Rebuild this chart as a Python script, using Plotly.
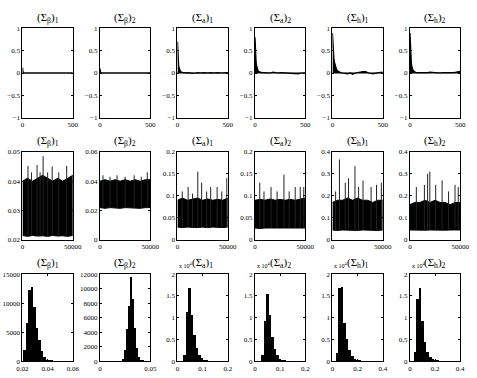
import plotly.graph_objects as go

# ---------------- data ----------------
titles = ["(Σ<sub>β</sub>)<sub>1</sub>", "(Σ<sub>β</sub>)<sub>2</sub>",
          "(Σ<sub>a</sub>)<sub>1</sub>", "(Σ<sub>a</sub>)<sub>2</sub>",
          "(Σ<sub>h</sub>)<sub>1</sub>", "(Σ<sub>h</sub>)<sub>2</sub>"]

# Row 1: autocorrelation by lag
acf_lags = [1, 2, 3, 4, 5, 6, 8, 10, 12, 15, 20, 25, 30, 40, 50, 60, 70, 80, 100, 120,
            150, 180, 200, 230, 260, 300, 330, 360, 400, 430, 460, 500]
acf_b1 = [0.12, 0.03, 0.01, 0.01, 0, 0, 0, 0, 0, 0, 0, 0, 0, 0, 0, 0, 0, 0, 0.01, 0,
          0, 0.01, 0, 0, 0, 0, 0.01, 0.01, 0.01, 0, 0, 0]
acf_b2 = [0.1, 0.02, 0.01, 0, 0, 0, 0, 0, 0, 0, 0, 0, 0, 0, 0, 0, 0, 0, 0, 0.01,
          0, 0, 0, 0.01, 0, 0, 0, 0, 0.01, 0, 0, 0]
acf_a1 = [0.7, 0.6, 0.52, 0.45, 0.4, 0.35, 0.28, 0.22, 0.18, 0.13, 0.09, 0.06, 0.04, 0.02, 0.01, 0.01,
          0.01, 0, 0.01, 0, -0.01, 0, 0.01, 0, 0.01, 0, 0.01, 0, 0.01, 0, 0.01, 0.01]
acf_a2 = [0.8, 0.7, 0.62, 0.55, 0.5, 0.45, 0.37, 0.3, 0.25, 0.19, 0.13, 0.09, 0.06, 0.03, 0.02, 0.02,
          0.01, 0.01, 0.01, 0.01, 0, 0.02, 0.01, 0, 0.01, 0, 0, -0.01, -0.02, -0.02, 0, 0]
acf_h1 = [0.9, 0.82, 0.76, 0.7, 0.65, 0.6, 0.52, 0.45, 0.4, 0.33, 0.25, 0.19, 0.14, 0.09, 0.05, 0.03,
          0.02, 0.01, 0, -0.01, -0.02, 0, -0.03, 0, 0.02, 0.03, 0.03, 0, -0.02, 0, 0.01, 0.02]
acf_h2 = [0.9, 0.8, 0.72, 0.65, 0.58, 0.52, 0.43, 0.35, 0.29, 0.22, 0.15, 0.1, 0.07, 0.04, 0.02, 0.01,
          0.01, 0.01, 0, 0.01, 0, 0.01, 0.02, 0.01, 0, 0, 0.01, 0.01, 0, 0.01, 0.02, 0.04]
acf_series = [acf_b1, acf_b2, acf_a1, acf_a2, acf_h1, acf_h2]

# Row 2: trace plots (envelope of the chain + isolated spikes)
trace_x = [0, 5000, 10000, 15000, 20000, 25000, 30000, 35000, 40000, 45000, 50000]
trace_hi_b1 = [0.040, 0.041, 0.040, 0.041, 0.042, 0.041, 0.040, 0.041, 0.040, 0.041, 0.042]
trace_lo_b1 = [0.0215, 0.0212, 0.0215, 0.0213, 0.0214, 0.0212, 0.0215, 0.0213, 0.0214, 0.0212, 0.0215]
trace_hi_b2 = [0.040, 0.041, 0.040, 0.041, 0.040, 0.041, 0.040, 0.041, 0.040, 0.041, 0.041]
trace_lo_b2 = [0.022, 0.0215, 0.022, 0.0218, 0.0215, 0.022, 0.0218, 0.022, 0.0215, 0.022, 0.022]
trace_hi_a1 = [0.09, 0.095, 0.09, 0.092, 0.095, 0.09, 0.093, 0.09, 0.092, 0.09, 0.095]
trace_lo_a1 = [0.029, 0.028, 0.029, 0.028, 0.028, 0.029, 0.028, 0.029, 0.028, 0.028, 0.029]
trace_hi_a2 = [0.09, 0.092, 0.09, 0.093, 0.09, 0.092, 0.09, 0.092, 0.09, 0.092, 0.095]
trace_lo_a2 = [0.027, 0.026, 0.027, 0.027, 0.026, 0.027, 0.027, 0.026, 0.027, 0.027, 0.027]
trace_hi_h1 = [0.17, 0.18, 0.18, 0.19, 0.18, 0.19, 0.18, 0.18, 0.17, 0.18, 0.18]
trace_lo_h1 = [0.045, 0.043, 0.045, 0.044, 0.045, 0.043, 0.045, 0.044, 0.045, 0.043, 0.045]
trace_hi_h2 = [0.16, 0.17, 0.17, 0.18, 0.17, 0.18, 0.17, 0.17, 0.16, 0.17, 0.17]
trace_lo_h2 = [0.045, 0.044, 0.045, 0.044, 0.045, 0.044, 0.045, 0.044, 0.045, 0.044, 0.045]
trace_hi = [trace_hi_b1, trace_hi_b2, trace_hi_a1, trace_hi_a2, trace_hi_h1, trace_hi_h2]
trace_lo = [trace_lo_b1, trace_lo_b2, trace_lo_a1, trace_lo_a2, trace_lo_h1, trace_lo_h2]

spike_x_b1 = [5500, 9000, 14500, 17500, 20500, 25000, 29500, 36000, 43900]
spike_y_b1 = [0.0452, 0.043, 0.0455, 0.043, 0.0485, 0.043, 0.045, 0.043, 0.0452]
spike_x_b2 = [3000, 10000, 17000, 25000, 34000, 41000, 47000]
spike_y_b2 = [0.044, 0.043, 0.044, 0.043, 0.044, 0.043, 0.046]
spike_x_a1 = [4800, 10600, 15000, 20200, 24000, 29000, 33000, 39400, 44000, 49000]
spike_y_a1 = [0.11, 0.12, 0.105, 0.155, 0.13, 0.11, 0.12, 0.12, 0.11, 0.14]
spike_x_a2 = [4800, 9000, 16000, 22000, 28800, 34000, 40000, 45000, 48500]
spike_y_a2 = [0.13, 0.11, 0.12, 0.11, 0.148, 0.11, 0.12, 0.12, 0.12]
spike_x_h1 = [3200, 7000, 12800, 16000, 22400, 26000, 30400, 38400, 43800, 48600]
spike_y_h1 = [0.22, 0.365, 0.26, 0.28, 0.335, 0.24, 0.27, 0.24, 0.25, 0.26]
spike_x_h2 = [6400, 14400, 17600, 19800, 25600, 32000, 38400, 44800, 48000]
spike_y_h2 = [0.24, 0.25, 0.3, 0.31, 0.25, 0.27, 0.22, 0.25, 0.24]
spike_x = [spike_x_b1, spike_x_b2, spike_x_a1, spike_x_a2, spike_x_h1, spike_x_h2]
spike_y = [spike_y_b1, spike_y_b2, spike_y_a1, spike_y_a2, spike_y_h1, spike_y_h2]

# Row 3: histograms (bin centres, counts; cols 3-6 in units of 10^4)
hist_c_b1 = [0.022, 0.024, 0.026, 0.028, 0.030, 0.032, 0.034, 0.036, 0.038, 0.040, 0.042, 0.044]
hist_n_b1 = [2000, 6500, 12200, 12800, 9400, 5700, 3600, 1800, 700, 250, 80, 30]
hist_c_b2 = [0.0225, 0.0245, 0.0265, 0.0285, 0.0305, 0.0325, 0.0345, 0.0365, 0.0385, 0.0405, 0.0425]
hist_n_b2 = [300, 1500, 4400, 7600, 11600, 8600, 4500, 1800, 600, 150, 40]
hist_c_a1 = [0.029, 0.039, 0.049, 0.059, 0.069, 0.079, 0.089, 0.099, 0.109, 0.119]
hist_n_a1 = [0.15, 1.12, 1.67, 1.05, 0.6, 0.3, 0.15, 0.07, 0.03, 0.015]
hist_c_a2 = [0.029, 0.039, 0.049, 0.059, 0.069, 0.079, 0.089, 0.099, 0.109, 0.119]
hist_n_a2 = [0.15, 0.93, 1.55, 1.05, 0.55, 0.28, 0.13, 0.06, 0.03, 0.01]
hist_c_h1 = [0.041, 0.061, 0.081, 0.101, 0.121, 0.141, 0.161, 0.181, 0.201, 0.221]
hist_n_h1 = [0.18, 1.68, 1.7, 0.87, 0.5, 0.25, 0.12, 0.06, 0.03, 0.015]
hist_c_h2 = [0.041, 0.061, 0.081, 0.101, 0.121, 0.141, 0.161, 0.181, 0.201, 0.221]
hist_n_h2 = [0.2, 1.42, 1.67, 0.92, 0.45, 0.22, 0.1, 0.05, 0.02, 0.01]
hist_c = [hist_c_b1, hist_c_b2, hist_c_a1, hist_c_a2, hist_c_h1, hist_c_h2]
hist_n = [hist_n_b1, hist_n_b2, hist_n_a1, hist_n_a2, hist_n_h1, hist_n_h2]
hist_w = [0.002, 0.002, 0.01, 0.01, 0.02, 0.02]

# axis settings
acf_xt = ([0, 500], ["0", "500"])
acf_yt = ([-1, -0.5, 0, 0.5, 1], ["−1", "−0.5", "0", "0.5", "1"])
trace_xt = ([0, 50000], ["0", "50000"])
trace_yr = [[0.02, 0.05], [0, 0.06], [0, 0.2], [0, 0.2], [0, 0.4], [0, 0.4]]
trace_yt = [([0.02, 0.03, 0.04, 0.05], ["0.02", "0.03", "0.04", "0.05"]),
            ([0, 0.02, 0.04, 0.06], ["0", "0.02", "0.04", "0.06"]),
            ([0, 0.05, 0.1, 0.15, 0.2], ["0", "0.05", "0.1", "0.15", "0.2"]),
            ([0, 0.05, 0.1, 0.15, 0.2], ["0", "0.05", "0.1", "0.15", "0.2"]),
            ([0, 0.1, 0.2, 0.3, 0.4], ["0", "0.1", "0.2", "0.3", "0.4"]),
            ([0, 0.1, 0.2, 0.3, 0.4], ["0", "0.1", "0.2", "0.3", "0.4"])]
hist_xr = [[0.02, 0.06], [0, 0.05], [0, 0.2], [0, 0.2], [0, 0.4], [0, 0.4]]
hist_xt = [([0.02, 0.04, 0.06], ["0.02", "0.04", "0.06"]),
           ([0, 0.05], ["0", "0.05"]),
           ([0, 0.1, 0.2], ["0", "0.1", "0.2"]),
           ([0, 0.1, 0.2], ["0", "0.1", "0.2"]),
           ([0, 0.2, 0.4], ["0", "0.2", "0.4"]),
           ([0, 0.2, 0.4], ["0", "0.2", "0.4"])]
hist_yr = [[0, 15000], [0, 12000], [0, 2], [0, 2], [0, 2], [0, 2]]
hist_yt = [([0, 5000, 10000, 15000], ["0", "5000", "10000", "15000"]),
           ([0, 2000, 4000, 6000, 8000, 10000, 12000], ["0", "2000", "4000", "6000", "8000", "10000", "12000"])] + \
          [([0, 0.5, 1, 1.5, 2], ["0", "0.5", "1", "1.5", "2"])] * 4

# ---------------- layout ----------------
W, H = 477, 378
col_left = [17, 97, 177, 257, 337, 417]
pw = 52
row_top = [25, 151, 276]
row_bot = [116, 241, 365]
FONT = "Liberation Serif"

fig = go.Figure()
layout = dict(width=W, height=H, margin=dict(l=0, r=0, t=0, b=0),
              paper_bgcolor="white", plot_bgcolor="white", showlegend=False,
              bargap=0, font=dict(family=FONT, size=7, color="black"))
annotations = []

def ax_common():
    return dict(showline=True, linecolor="black", linewidth=1, mirror="ticks",
                ticks="inside", ticklen=2, tickcolor="black", showgrid=False,
                zeroline=False, tickfont=dict(family=FONT, size=7, color="black"))

k = 0
for r in range(3):
    for c in range(6):
        k += 1
        xa = "x" if k == 1 else f"x{k}"
        ya = "y" if k == 1 else f"y{k}"
        xd = [col_left[c] / W, (col_left[c] + pw) / W]
        yd = [1 - row_bot[r] / H, 1 - row_top[r] / H]
        xax = ax_common(); yax = ax_common()
        xax.update(domain=xd, anchor=ya)
        yax.update(domain=yd, anchor=xa)
        if r == 0:
            fig.add_trace(go.Scatter(x=acf_lags, y=acf_series[c], mode="lines",
                                     line=dict(color="black", width=1.2),
                                     fill="tozeroy", fillcolor="black",
                                     xaxis=xa, yaxis=ya))
            fig.add_trace(go.Scatter(x=[0, 500], y=[0, 0], mode="lines",
                                     line=dict(color="black", width=1.2),
                                     xaxis=xa, yaxis=ya))
            xax.update(range=[0, 500], tickvals=acf_xt[0], ticktext=acf_xt[1])
            yax.update(range=[-1, 1], tickvals=acf_yt[0], ticktext=acf_yt[1])
        elif r == 1:
            fig.add_trace(go.Scatter(x=trace_x, y=trace_lo[c], mode="lines",
                                     line=dict(color="black", width=1),
                                     xaxis=xa, yaxis=ya))
            fig.add_trace(go.Scatter(x=trace_x, y=trace_hi[c], mode="lines",
                                     line=dict(color="black", width=1),
                                     fill="tonexty", fillcolor="black",
                                     xaxis=xa, yaxis=ya))
            sx, sy = [], []
            base = trace_lo[c][0]
            for px_, py_ in zip(spike_x[c], spike_y[c]):
                sx += [px_, px_, None]
                sy += [base, py_, None]
            fig.add_trace(go.Scatter(x=sx, y=sy, mode="lines",
                                     line=dict(color="#222222", width=1),
                                     xaxis=xa, yaxis=ya))
            xax.update(range=[0, 50000], tickvals=trace_xt[0], ticktext=trace_xt[1])
            yax.update(range=trace_yr[c], tickvals=trace_yt[c][0], ticktext=trace_yt[c][1])
        else:
            fig.add_trace(go.Bar(x=hist_c[c], y=hist_n[c], width=hist_w[c],
                                 marker=dict(color="black", line=dict(width=0)),
                                 xaxis=xa, yaxis=ya))
            xax.update(range=hist_xr[c], tickvals=hist_xt[c][0], ticktext=hist_xt[c][1])
            yax.update(range=hist_yr[c], tickvals=hist_yt[c][0], ticktext=hist_yt[c][1])
            if c >= 2:
                annotations.append(dict(x=col_left[c] / W, y=1 - (row_top[r] - 3) / H,
                                        xref="paper", yref="paper", xanchor="left",
                                        yanchor="bottom", showarrow=False,
                                        text="x 10<sup>4</sup>",
                                        font=dict(family=FONT, size=6, color="black")))
        layout["xaxis" if k == 1 else f"xaxis{k}"] = xax
        layout["yaxis" if k == 1 else f"yaxis{k}"] = yax
        annotations.append(dict(x=(col_left[c] + pw / 2) / W, y=1 - (row_top[r] - 2) / H,
                                xref="paper", yref="paper", xanchor="center",
                                yanchor="bottom", showarrow=False, text=titles[c],
                                font=dict(family=FONT, size=11, color="black")))

layout["annotations"] = annotations
fig.update_layout(**layout)
fig.write_html("out.html")
